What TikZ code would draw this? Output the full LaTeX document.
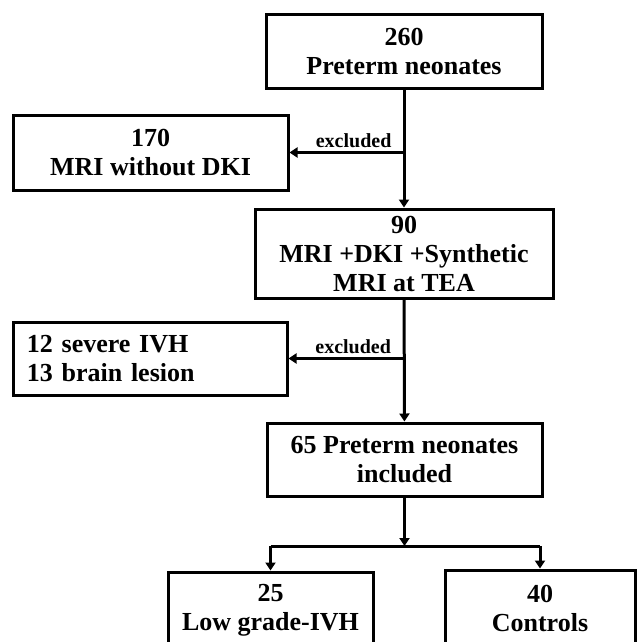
\documentclass[tikz,border=0pt]{standalone}
\usepackage{fontspec}
\setmainfont{Liberation Serif}
\usetikzlibrary{arrows.meta}
\tikzset{
    stage/.style={draw,line width=3pt,align=center,font=\bfseries\fontsize{26}{29}\selectfont,inner sep=0pt},
    flow/.style={line width=3pt,-{Triangle[width=10pt,length=8pt]}},
    link/.style={line width=3pt},
    note/.style={font=\bfseries\fontsize{20}{23}\selectfont,inner sep=3pt}
}
\begin{document}
\begin{tikzpicture}[x=1pt,y=-1pt]
  \useasboundingbox (0,0) rectangle (641,642);
  \clip (0,0) rectangle (641,642);

  % Main column
  \node[stage,minimum width=276pt,minimum height=73pt] at (404,51.5) (total) {260\\Preterm neonates};
  \node[stage,minimum width=298pt,minimum height=89pt] at (404,253.5) (scanned) {90\\MRI +DKI +Synthetic\\MRI at TEA};
  \node[stage,minimum width=275pt,minimum height=73pt] at (404.5,459.5) (included) {65 Preterm neonates\\included};

  % Exclusions
  \node[stage,minimum width=275pt,minimum height=75pt] at (150.5,152.5) (nodki) {170\\MRI without DKI};
  \node[stage,minimum width=274pt,minimum height=73pt,align=left,text width=246pt] at (150,358.5) (lesion) {12 severe IVH\\13 brain lesion};

  % Groups
  \node[stage,minimum width=205pt,minimum height=76pt] at (270.5,610) (ivh) {25\\Low grade-IVH};
  \node[stage,minimum width=190pt,minimum height=76pt] at (540,608) (ctrl) {40\\Controls};

  % Arrows
  \draw[flow] (total) -- (scanned);
  \coordinate (x1) at (total.south|-nodki.east);
  \draw[flow] (x1) -- (nodki.east) node[note,pos=0.44,above] {excluded};
  \draw[flow] (scanned) -- (included);
  \coordinate (x2) at (scanned.south|-lesion.east);
  \draw[flow] (x2) -- (lesion.east) node[note,pos=0.44,above] {excluded};

  % Split
  \coordinate (split) at (404.5,546);
  \draw[flow] (included) -- (split);
  \draw[link] (ivh.north|-split) -- (ctrl.north|-split);
  \draw[flow] (ivh.north|-split) -- (ivh.north);
  \draw[flow] (ctrl.north|-split) -- (ctrl.north);
\end{tikzpicture}
\end{document}
